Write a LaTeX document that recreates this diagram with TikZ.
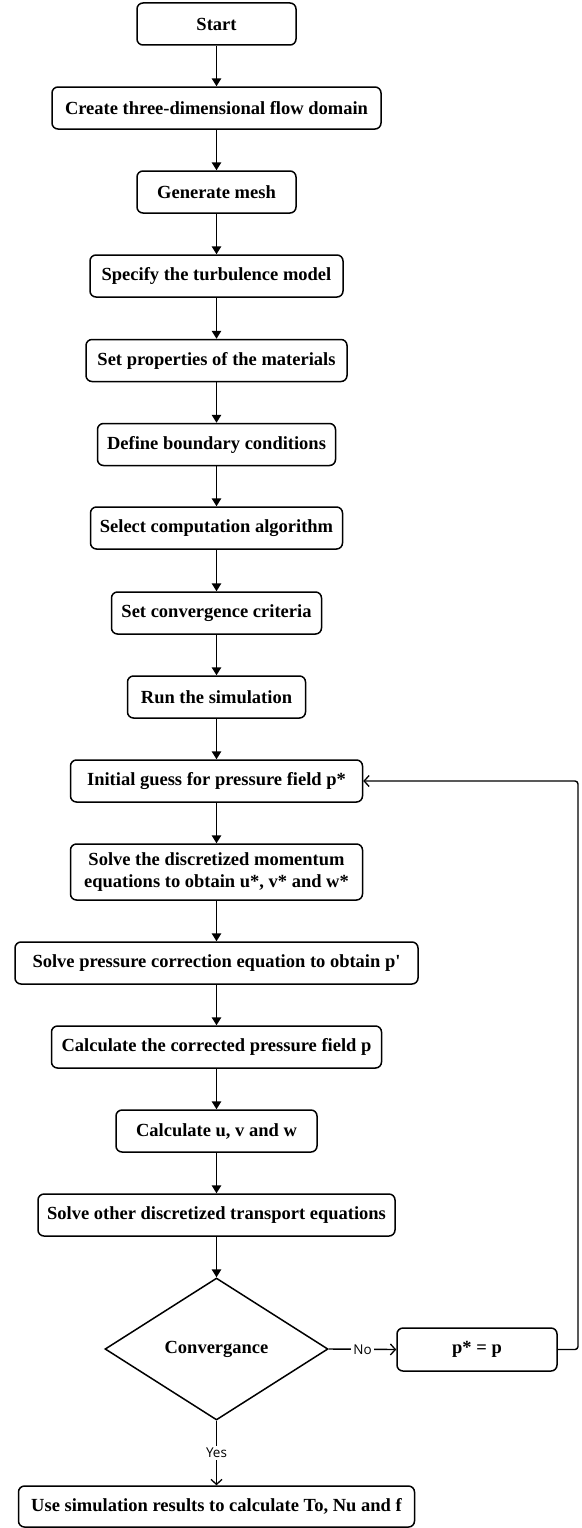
\documentclass[tikz,border=0pt]{standalone}
\usepackage{fontspec}
\setmainfont{Liberation Serif}[Ligatures=TeXOff]
\newfontfamily\lblfont{Open Sans}
\usetikzlibrary{arrows.meta,shapes.geometric}
\begin{document}
\begin{tikzpicture}[x={(1pt,0)},y={(0,-1pt)},
  box/.style={draw,line width=1.5pt,rounded corners=6pt,inner sep=0pt,align=center,
    font=\fontsize{18.5}{22}\selectfont\bfseries,minimum height=42pt},
  dec/.style={draw,line width=1.5pt,diamond,aspect=1.57,inner sep=0pt,
    minimum width=223pt,minimum height=142pt,font=\fontsize{18.5}{22}\selectfont\bfseries},
  flow/.style={line width=1.5pt,-{Triangle[length=8pt,width=9.5pt]}},
  oflow/.style={line width=1.4pt,-{Straight Barb[length=5pt,width=11pt,line width=1.3pt]}},
  lbl/.style={fill=white,inner sep=2pt,font=\lblfont\fontsize{13.5}{15}\selectfont}]
\useasboundingbox (0,0) rectangle (581,1528);
\node[box,minimum width=159pt] (start) at (216.5,24) {Start};
\node[box,minimum width=329pt] (create) at (216.5,108) {Create three-dimensional flow domain};
\node[box,minimum width=159pt] (mesh) at (216.5,192) {Generate mesh};
\node[box,minimum width=253pt] (turb) at (216.5,276) {Specify the turbulence model};
\node[box,minimum width=261pt] (props) at (216.5,360.5) {Set properties of the materials};
\node[box,minimum width=238pt] (bc) at (216.5,444.5) {Define boundary conditions};
\node[box,minimum width=252pt] (algo) at (216.5,528) {Select computation algorithm};
\node[box,minimum width=210pt] (conv) at (216.5,613) {Set convergence criteria};
\node[box,minimum width=178pt] (run) at (216.5,697) {Run the simulation};
\node[box,minimum width=292pt] (init) at (216.5,781) {Initial guess for pressure field p*};
\node[box,minimum width=292pt,minimum height=56pt] (mom) at (216.5,872) {Solve the discretized momentum\\equations to obtain u*, v* and w*};
\node[box,minimum width=403pt] (pcorr) at (216.5,963) {Solve pressure correction equation to obtain p'};
\node[box,minimum width=330pt] (corr) at (216.5,1047) {Calculate the corrected pressure field p};
\node[box,minimum width=201pt] (uvw) at (216.5,1131) {Calculate u, v and w};
\node[box,minimum width=357pt] (other) at (216.5,1215) {Solve other discretized transport equations};
\node[dec] (cvg) at (216.5,1349) {Convergance};
\node[box,minimum width=160pt,minimum height=43pt] (peq) at (477,1349.5) {p* = p};
\node[box,minimum width=396pt,minimum height=41pt] (final) at (216.5,1506.5) {Use simulation results to calculate To, Nu and f};
\coordinate (lr) at (578,1349.5);
\coordinate (ur) at (578,781);
\draw[flow] (start) -- (create);
\draw[flow] (create) -- (mesh);
\draw[flow] (mesh) -- (turb);
\draw[flow] (turb) -- (props);
\draw[flow] (props) -- (bc);
\draw[flow] (bc) -- (algo);
\draw[flow] (algo) -- (conv);
\draw[flow] (conv) -- (run);
\draw[flow] (run) -- (init);
\draw[flow] (init) -- (mom);
\draw[flow] (mom) -- (pcorr);
\draw[flow] (pcorr) -- (corr);
\draw[flow] (corr) -- (uvw);
\draw[flow] (uvw) -- (other);
\draw[flow] (other) -- (cvg);
\draw[oflow] (cvg.east) -- node[lbl] {No} (peq.west);
\draw[oflow] (cvg.south) -- node[lbl] {Yes} (final.north);
\draw[oflow,rounded corners=3pt] (peq.east) -- (lr) -- (ur) -- (init.east);
\end{tikzpicture}
\end{document}
